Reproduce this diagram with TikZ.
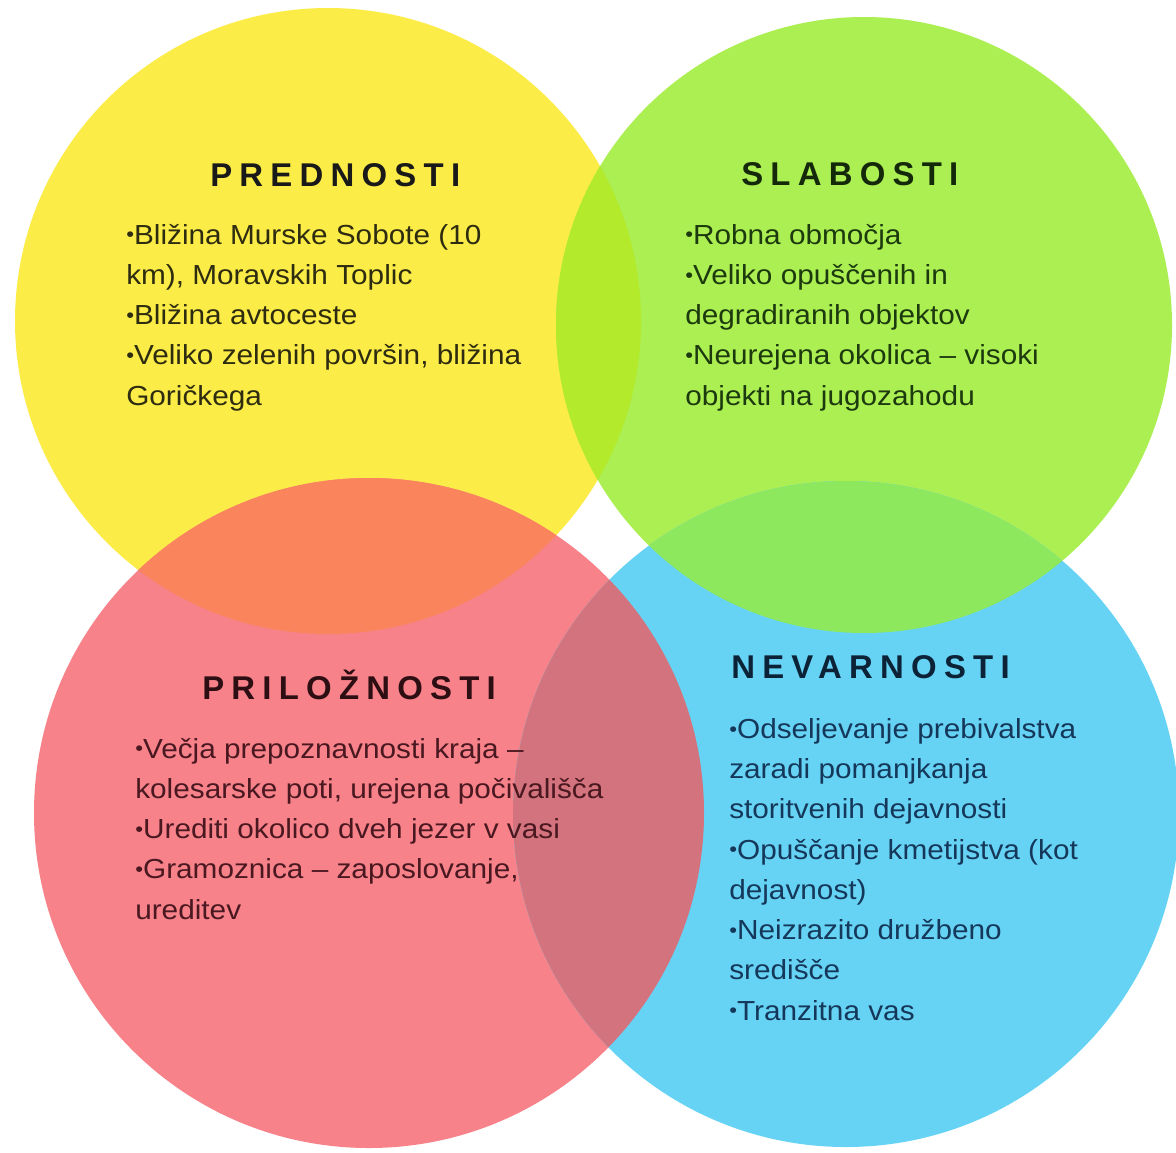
\documentclass[tikz,border=0pt]{standalone}
\usepackage{fontspec}
\setmainfont[FakeStretch=1.08]{Liberation Sans}
\newfontfamily\headfont[LetterSpace=22]{Liberation Sans}
\usetikzlibrary{positioning}
\definecolor{swotYellow}{HTML}{FCEC47}
\definecolor{swotGreen}{HTML}{ACEF52}
\definecolor{swotRed}{HTML}{F7828A}
\definecolor{swotBlue}{HTML}{66D3F5}
\definecolor{mixYG}{HTML}{B3EA2C}
\definecolor{mixYR}{HTML}{FA845C}
\definecolor{mixGB}{HTML}{8DE85E}
\definecolor{mixRB}{HTML}{D2737D}
\definecolor{inkYellow}{HTML}{2E2C10}
\definecolor{inkGreen}{HTML}{1C3A0E}
\definecolor{inkRed}{HTML}{4A1820}
\definecolor{inkBlue}{HTML}{15385A}
\newcommand{\bul}{\raisebox{.15ex}{\scalebox{.75}{•}}}

\begin{document}
\begin{tikzpicture}[x=0.025cm, y=-0.025cm,
    swot title/.style={anchor=base west, inner sep=0pt,
      font=\headfont\bfseries\fontsize{23.4}{28}\selectfont},
    swot body/.style={anchor=base west, inner sep=0pt, align=left,
      font=\fontsize{19.6}{28.6}\selectfont}]
    \useasboundingbox[fill=white] (0,0) rectangle (1176,1152);
    % circles
    \fill[swotYellow] (328,321) circle[radius=313];
    \fill[swotGreen] (864,325) circle[radius=308];
    \fill[swotRed] (369,813) circle[radius=335];
    \fill[swotBlue] (846,814) circle[radius=333];
    % overlaps
    \begin{scope}
      \clip (328,321) circle[radius=313];
      \fill[mixYG] (864,325) circle[radius=308];
      \fill[mixYR] (369,813) circle[radius=335];
    \end{scope}
    \begin{scope}
      \clip (846,814) circle[radius=333];
      \fill[mixGB] (864,325) circle[radius=308];
      \fill[mixRB] (369,813) circle[radius=335];
    \end{scope}
    % prednosti (text nodes sit on the baseline of their last line)
    \node[swot title, text=black!90] (prednosti) at (210,186) {PREDNOSTI};
    \node[swot body, text=inkYellow] (prednostiText) at (126,405)
      {\bul Bližina Murske Sobote (10\\km), Moravskih Toplic\\\bul Bližina avtoceste\\%
       \bul Veliko zelenih površin, bližina\\Goričkega};
    % slabosti
    \node[swot title, text=inkGreen!70!black] (slabosti) at (741,185) {SLABOSTI};
    \node[swot body, text=inkGreen] (slabostiText) at (685,405)
      {\bul Robna območja\\\bul Veliko opuščenih in\\degradiranih objektov\\%
       \bul Neurejena okolica – visoki\\objekti na jugozahodu};
    % priloznosti
    \node[swot title, text=inkRed!60!black] (priloznosti) at (202,699) {PRILOŽNOSTI};
    \node[swot body, text=inkRed] (priloznostiText) at (135,919)
      {\bul Večja prepoznavnosti kraja –\\kolesarske poti, urejena počivališča\\%
       \bul Urediti okolico dveh jezer v vasi\\\bul Gramoznica – zaposlovanje,\\ureditev};
    % nevarnosti
    \node[swot title, text=inkBlue!60!black] (nevarnosti) at (731,678) {NEVARNOSTI};
    \node[swot body, text=inkBlue] (nevarnostiText) at (729,1020)
      {\bul Odseljevanje prebivalstva\\zaradi pomanjkanja\\storitvenih dejavnosti\\%
       \bul Opuščanje kmetijstva (kot\\dejavnost)\\\bul Neizrazito družbeno\\središče\\%
       \bul Tranzitna vas};
\end{tikzpicture}
\end{document}
